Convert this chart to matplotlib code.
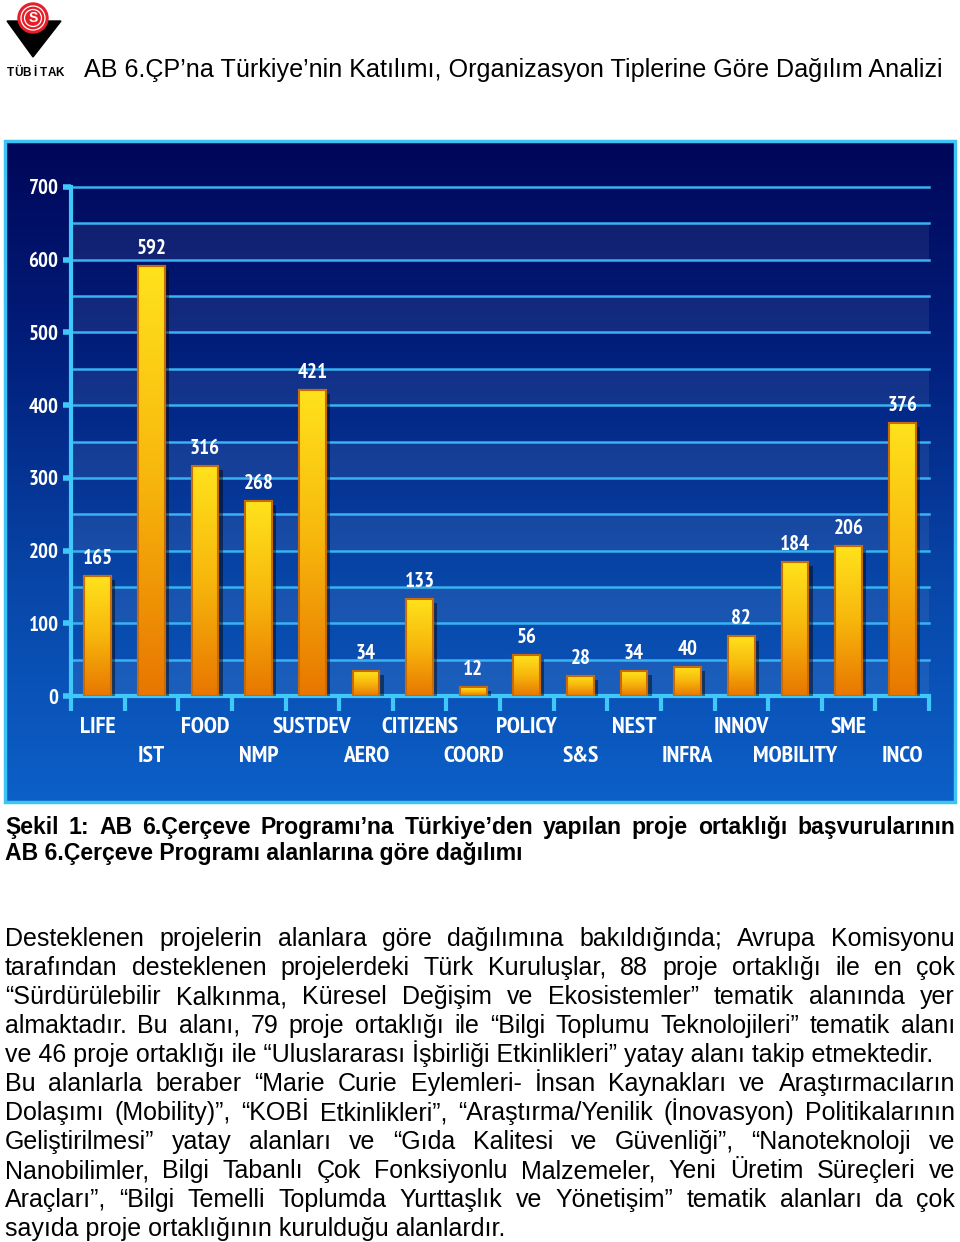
import numpy as np
import matplotlib.pyplot as plt
import matplotlib.patheffects as pe
from matplotlib import font_manager as fm
from matplotlib.patches import Rectangle, Polygon, Circle
from matplotlib.colors import LinearSegmentedColormap

# chart data
categories = ['LIFE', 'IST', 'FOOD', 'NMP', 'SUSTDEV', 'AERO', 'CITIZENS', 'COORD',
              'POLICY', 'S&S', 'NEST', 'INFRA', 'INNOV', 'MOBILITY', 'SME', 'INCO']
values = [165, 592, 316, 268, 421, 34, 133, 12, 56, 28, 34, 40, 82, 184, 206, 376]
y_ticks = [0, 100, 200, 300, 400, 500, 600, 700]

# page text
title = 'AB 6.ÇP’na Türkiye’nin Katılımı, Organizasyon Tiplerine Göre Dağılım Analizi'
caption = ['Şekil 1: AB 6.Çerçeve Programı’na Türkiye’den yapılan proje ortaklığı başvurularının',
           'AB 6.Çerçeve Programı alanlarına göre dağılımı']
body = [
    'Desteklenen projelerin alanlara göre dağılımına bakıldığında; Avrupa Komisyonu',
    'tarafından desteklenen projelerdeki Türk Kuruluşlar, 88 proje ortaklığı ile en çok',
    '“Sürdürülebilir Kalkınma, Küresel Değişim ve Ekosistemler” tematik alanında yer',
    'almaktadır.  Bu alanı, 79 proje ortaklığı ile “Bilgi Toplumu Teknolojileri” tematik alanı',
    've 46 proje ortaklığı ile “Uluslararası İşbirliği Etkinlikleri” yatay alanı takip etmektedir.',
    'Bu alanlarla beraber “Marie Curie Eylemleri- İnsan Kaynakları ve Araştırmacıların',
    'Dolaşımı (Mobility)”, “KOBİ Etkinlikleri”, “Araştırma/Yenilik (İnovasyon) Politikalarının',
    'Geliştirilmesi”  yatay  alanları  ve  “Gıda  Kalitesi  ve  Güvenliği”,  “Nanoteknoloji  ve',
    'Nanobilimler, Bilgi Tabanlı Çok Fonksiyonlu Malzemeler, Yeni Üretim Süreçleri ve',
    'Araçları”, “Bilgi Temelli Toplumda Yurttaşlık ve Yönetişim” tematik alanları da çok',
    'sayıda proje ortaklığının kurulduğu alanlardır.',
]
body_last = [False, False, False, False, True, False, False, False, False, False, True]

text_font = ['Liberation Sans', 'DejaVu Sans']

# look for a narrow / condensed bold face for the chart labels
def pick_font():
    bold = [f for f in fm.fontManager.ttflist if str(f.weight) in ('700', 'bold')]
    for key in ['liberation sans narrow', 'narrow', 'condensed']:
        for f in bold:
            if key in f.name.lower() or key in str(f.stretch).lower():
                return fm.FontProperties(fname=f.fname)
    return fm.FontProperties(family='Liberation Sans', weight='bold')

chart_prop = pick_font()

fig = plt.figure(figsize=(9.6, 12.42), dpi=100)
renderer = fig.canvas.get_renderer()

# page layer in pixel units
page = fig.add_axes([0, 0, 1, 1])
page.axis('off')

def width_of(t):
    return t.get_window_extent(renderer).width

def fit_size(text, target, weight='normal', base=16, prop=None):
    if prop is None:
        t = page.text(0, 0, text, fontsize=base, family=text_font, weight=weight)
    else:
        p = prop.copy()
        p.set_size(base)
        t = page.text(0, 0, text, fontproperties=p)
    w = width_of(t)
    t.remove()
    return base * target / w

def justify(y, text, x0, x1, size, weight='normal'):
    words = text.split()
    objs = [page.text(0, y, w, fontsize=size, family=text_font, weight=weight,
                      va='baseline', color='black') for w in words]
    widths = [width_of(o) for o in objs]
    gap = (x1 - x0 - sum(widths)) / (len(words) - 1)
    x = x0
    for o, w in zip(objs, widths):
        o.set_x(x)
        x += w + gap

# chart label sizes: keep label widths close to the reference, cap the height
label_prop = chart_prop.copy()
label_prop.set_size(min(17, fit_size('SUSTDEV', 82, prop=chart_prop)))
num_prop = chart_prop.copy()
num_prop.set_size(min(18, max(13.5, fit_size('592', 30, prop=chart_prop))))

# panel background gradient
panel_cmap = LinearSegmentedColormap.from_list('panel', ['#000658', '#02207e', '#0846a8', '#0c60c8'])
grad = np.linspace(0, 1, 256).reshape(-1, 1)
page.imshow(grad, extent=(5, 955, 802, 141), cmap=panel_cmap, aspect='auto', zorder=1)
page.add_patch(Rectangle((5, 141), 950, 661, fill=False, ec='#3cc4f4', lw=2.5, zorder=2))

page.set_xlim(0, 960)
page.set_ylim(1242, 0)

# logo
page.add_patch(Polygon([(7, 21), (61, 21), (33, 57)], closed=True, color='black', zorder=3))
page.add_patch(Circle((33, 18), 15, color='#e3202a', zorder=4))
for r in [12, 8.5]:
    page.add_patch(Circle((33, 18), r, fill=False, ec='white', lw=0.9, zorder=5))
page.text(33, 18, 'S', ha='center', va='center', fontsize=10, weight='bold',
          color='white', family=text_font, zorder=6)
for i, ch in enumerate('TÜBİTAK'):
    page.text(10 + i * 8.3, 76, ch, ha='center', va='baseline', fontsize=8.5, weight='bold',
              family=text_font, color='black')

# title
ts = fit_size(title, 861)
page.text(84, 77, title, fontsize=ts, family=text_font, va='baseline', color='black')

# caption
cs = fit_size(caption[1], 518, weight='bold')
justify(834, caption[0], 5, 955, cs, weight='bold')
page.text(5, 860, caption[1], fontsize=cs, family=text_font, weight='bold', va='baseline')

# body
bs = fit_size(body[10], 503)
for i, (line, last) in enumerate(zip(body, body_last)):
    y = 946 + 29 * i
    if last:
        page.text(5, y, line, fontsize=bs, family=text_font, va='baseline')
    else:
        justify(y, line, 5, 955, bs)

# chart
ax = fig.add_axes([71 / 960, 1 - 696 / 1242, 858 / 960, 509 / 1242])
ax.set_facecolor('none')
x = np.arange(len(categories))

for k in range(7):
    ax.axhspan(k * 100, k * 100 + 50, color='white', alpha=0.07, lw=0, zorder=0)
for v in range(50, 701, 50):
    ax.axhline(v, color='#38b2f0', lw=1.8, zorder=1, clip_on=False)

bars = ax.bar(x, values, width=0.5, color='#f0a000', edgecolor='#c86a08', lw=1.5, zorder=3,
              path_effects=[pe.SimplePatchShadow(offset=(3, -3), shadow_rgbFace='black', alpha=0.45),
                            pe.Normal()])
bar_cmap = LinearSegmentedColormap.from_list('bar', ['#ffe21c', '#f7b60c', '#e87600'])
for b in bars:
    img = ax.imshow(grad, extent=(b.get_x(), b.get_x() + b.get_width(), 0, b.get_height()),
                    cmap=bar_cmap, aspect='auto', zorder=4)
    img.set_clip_path(b)
ax.bar(x, values, width=0.5, fill=False, edgecolor='#c86a08', lw=1.5, zorder=5)

for xi, v in zip(x, values):
    ax.text(xi, v + 11, str(v), ha='center', va='bottom', color='white',
            fontproperties=num_prop, zorder=6)

ax.set_xlim(-0.5, 15.5)
ax.set_ylim(0, 700)

for s in ['top', 'right']:
    ax.spines[s].set_visible(False)
for s in ['left', 'bottom']:
    ax.spines[s].set_color('#40c8f8')
    ax.spines[s].set_linewidth(3)

ax.set_yticks(y_ticks)
ax.set_yticklabels([str(t) for t in y_ticks], fontproperties=num_prop)
ax.tick_params(axis='y', direction='out', length=6, width=4, color='#40c8f8',
               labelcolor='white', pad=3)

ax.set_xticks(x)
ax.set_xticklabels(categories, fontproperties=label_prop)
ax.set_xticks(np.arange(-0.5, 16, 1), minor=True)
ax.tick_params(axis='x', which='major', length=0, labelcolor='white')
ax.tick_params(axis='x', which='minor', direction='out', length=11, width=3, color='#40c8f8')
for i, t in enumerate(ax.xaxis.get_major_ticks()):
    t.set_pad(15 if i % 2 == 0 else 36)

fig.savefig('out.png', dpi=100)
